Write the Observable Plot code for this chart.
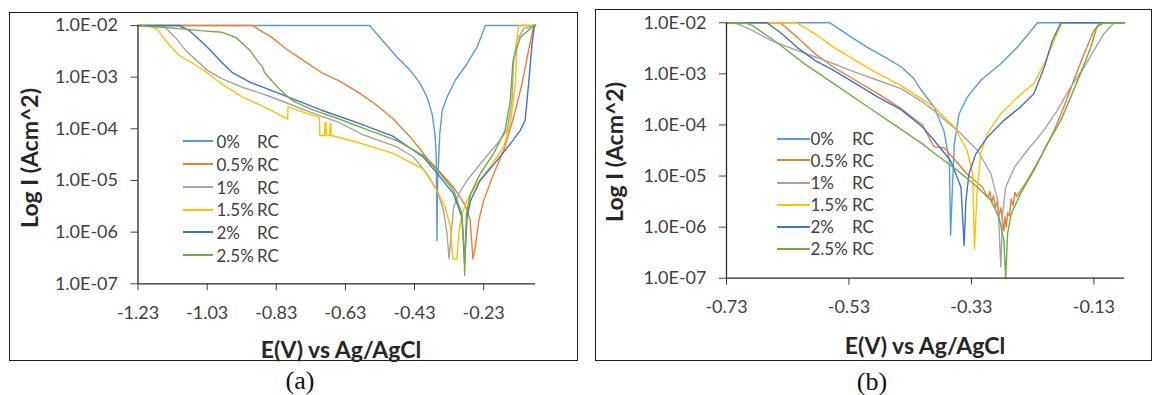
<!DOCTYPE html>
<html><head><meta charset="utf-8">
<script src="https://cdn.jsdelivr.net/npm/d3@7"></script>
<script src="https://cdn.jsdelivr.net/npm/@observablehq/plot@0.6"></script>
<style>
body{margin:0;background:#fff;width:1155px;height:395px;position:relative;overflow:hidden;font-family:Lato,"Open Sans",sans-serif;}
.box{position:absolute;border:1.5px solid #1e1e1e;box-sizing:border-box;}
.ttl{position:absolute;font-weight:bold;color:#262626;white-space:nowrap;font-size:23px;transform:translate(-50%,-50%);}
.ttl.rot{transform:translate(-50%,-50%) rotate(-90deg);}
.cap{position:absolute;font-family:"Liberation Serif","DejaVu Serif",serif;font-size:26px;color:#111;transform:translate(-50%,-50%);}
.lg{position:absolute;font-size:17px;color:#404040;white-space:nowrap;transform:translateY(-50%);line-height:1;}
.ll{position:absolute;}
</style></head><body>
<script>
// ---------- categories, colours, ticks ----------
const series = ["0%", "0.5%", "1%", "1.5%", "2%", "2.5%"];
const suffix = "RC";
const colors = ["#5B9BD5", "#ED7D31", "#A5A5A5", "#FFC000", "#4472C4", "#70AD47"];
const yTicks = [1e-2, 1e-3, 1e-4, 1e-5, 1e-6, 1e-7];
const xTicksA = [-1.23, -1.03, -0.83, -0.63, -0.43, -0.23];
const xTicksB = [-0.73, -0.53, -0.33, -0.13];
const xDomainA = [-1.23, -0.08];
const xDomainB = [-0.73, -0.08];
const yDomain = [1e-7, 1e-2];
const xTitle = "E(V) vs Ag/AgCl";
const yTitle = "Log I (Acm^2)";

// ---------- panel (a): [E (V), log10 I] ----------
const a_0 = [[-1.23,-2],[-0.56,-2],[-0.519,-2.32],[-0.481,-2.61],[-0.442,-2.87],[-0.413,-3.13],[-0.394,-3.39],[-0.379,-3.71],[-0.371,-4.10],[-0.367,-4.55],[-0.365,-6.16],[-0.363,-5.0],[-0.361,-4.74],[-0.357,-4.10],[-0.350,-3.65],[-0.336,-3.39],[-0.312,-3.06],[-0.278,-2.74],[-0.249,-2.42],[-0.225,-2.0],[-0.08,-2]];
const a_05 = [[-1.23,-2],[-0.90,-2],[-0.843,-2.23],[-0.802,-2.45],[-0.751,-2.68],[-0.699,-2.91],[-0.648,-3.07],[-0.596,-3.28],[-0.544,-3.52],[-0.493,-3.80],[-0.441,-4.17],[-0.413,-4.40],[-0.390,-4.60],[-0.365,-4.77],[-0.317,-5.13],[-0.283,-5.48],[-0.269,-5.77],[-0.261,-6.52],[-0.254,-6.29],[-0.244,-5.77],[-0.230,-5.39],[-0.201,-4.87],[-0.172,-4.42],[-0.143,-3.77],[-0.119,-3.13],[-0.100,-2.48],[-0.085,-2.0],[-0.08,-2]];
const a_1 = [[-1.23,-2],[-1.153,-2.03],[-1.122,-2.23],[-1.091,-2.49],[-1.060,-2.68],[-1.029,-2.87],[-0.988,-3.03],[-0.926,-3.20],[-0.854,-3.36],[-0.792,-3.52],[-0.730,-3.68],[-0.648,-3.88],[-0.577,-4.12],[-0.481,-4.35],[-0.432,-4.55],[-0.394,-4.87],[-0.365,-5.19],[-0.346,-5.58],[-0.336,-6.03],[-0.330,-6.52],[-0.324,-6.03],[-0.317,-5.52],[-0.302,-5.26],[-0.278,-5.0],[-0.240,-4.68],[-0.191,-4.29],[-0.162,-4.03],[-0.148,-3.45],[-0.143,-2.68],[-0.134,-2.29],[-0.114,-2.06],[-0.083,-2],[-0.08,-2]];
const a_15 = [[-1.23,-2],[-1.20,-2.0],[-1.173,-2.08],[-1.153,-2.27],[-1.111,-2.58],[-1.070,-2.74],[-1.029,-2.92],[-0.988,-3.13],[-0.926,-3.39],[-0.864,-3.58],[-0.797,-3.81],[-0.796,-3.57],[-0.751,-3.68],[-0.705,-3.78],[-0.704,-4.13],[-0.690,-4.13],[-0.689,-3.88],[-0.686,-3.88],[-0.685,-4.13],[-0.675,-4.13],[-0.674,-3.90],[-0.672,-3.90],[-0.671,-4.13],[-0.596,-4.26],[-0.493,-4.47],[-0.405,-4.78],[-0.365,-5.19],[-0.341,-5.52],[-0.326,-5.90],[-0.319,-6.52],[-0.307,-6.52],[-0.302,-6.03],[-0.293,-5.65],[-0.278,-5.39],[-0.249,-5.06],[-0.211,-4.74],[-0.172,-4.35],[-0.153,-3.90],[-0.138,-3.13],[-0.134,-2.29],[-0.129,-2.0],[-0.08,-2]];
const a_2 = [[-1.23,-2],[-1.111,-2],[-1.081,-2.10],[-1.050,-2.29],[-1.019,-2.49],[-0.988,-2.71],[-0.957,-2.91],[-0.905,-3.10],[-0.843,-3.26],[-0.782,-3.42],[-0.699,-3.64],[-0.596,-3.88],[-0.493,-4.14],[-0.404,-4.55],[-0.355,-4.94],[-0.317,-5.26],[-0.293,-5.71],[-0.285,-6.61],[-0.278,-5.71],[-0.268,-5.39],[-0.240,-5.0],[-0.191,-4.61],[-0.153,-4.29],[-0.124,-4.03],[-0.110,-3.84],[-0.100,-3.13],[-0.090,-2.35],[-0.083,-2],[-0.08,-2]];
const a_25 = [[-1.23,-2],[-1.111,-2.06],[-1.050,-2.10],[-0.988,-2.13],[-0.947,-2.23],[-0.905,-2.49],[-0.885,-2.68],[-0.869,-2.81],[-0.864,-2.91],[-0.843,-3.07],[-0.812,-3.29],[-0.782,-3.46],[-0.730,-3.62],[-0.648,-3.81],[-0.577,-3.99],[-0.481,-4.23],[-0.404,-4.52],[-0.355,-4.87],[-0.317,-5.19],[-0.293,-5.65],[-0.287,-6.30],[-0.285,-6.84],[-0.283,-6.30],[-0.280,-5.65],[-0.268,-5.26],[-0.240,-4.87],[-0.201,-4.48],[-0.168,-4.03],[-0.153,-3.45],[-0.145,-2.68],[-0.124,-2.23],[-0.085,-2],[-0.08,-2]];

// ---------- panel (b): [E (V), log10 I] ----------
const b_0 = [[-0.73,-2],[-0.561,-2],[-0.53,-2.25],[-0.50,-2.48],[-0.47,-2.68],[-0.445,-2.86],[-0.425,-3.08],[-0.413,-3.30],[-0.391,-3.65],[-0.375,-4.11],[-0.366,-4.70],[-0.364,-6.16],[-0.361,-5.22],[-0.358,-4.37],[-0.350,-3.78],[-0.337,-3.46],[-0.315,-3.13],[-0.282,-2.80],[-0.255,-2.48],[-0.222,-2.0],[-0.08,-2]];
const b_05 = [[-0.73,-2],[-0.642,-2],[-0.615,-2.28],[-0.585,-2.61],[-0.555,-2.87],[-0.519,-3.13],[-0.482,-3.39],[-0.445,-3.68],[-0.410,-4.00],[-0.391,-4.43],[-0.374,-4.45],[-0.337,-4.96],[-0.312,-5.22],[-0.303,-5.42],[-0.300,-5.30],[-0.297,-5.52],[-0.294,-5.38],[-0.291,-5.62],[-0.288,-5.50],[-0.285,-5.78],[-0.282,-5.62],[-0.279,-5.90],[-0.277,-6.07],[-0.275,-5.80],[-0.273,-6.00],[-0.271,-5.72],[-0.268,-5.78],[-0.265,-5.45],[-0.262,-5.58],[-0.259,-5.32],[-0.256,-5.40],[-0.239,-5.09],[-0.217,-4.63],[-0.195,-4.11],[-0.179,-3.65],[-0.163,-3.13],[-0.146,-2.61],[-0.130,-2.15],[-0.119,-2.0],[-0.08,-2]];
const b_1 = [[-0.73,-2],[-0.712,-2.02],[-0.688,-2.15],[-0.657,-2.35],[-0.615,-2.54],[-0.585,-2.67],[-0.555,-2.80],[-0.519,-2.97],[-0.482,-3.13],[-0.445,-3.29],[-0.410,-3.55],[-0.391,-3.72],[-0.347,-4.17],[-0.320,-4.50],[-0.298,-4.96],[-0.287,-5.48],[-0.282,-6.78],[-0.279,-5.74],[-0.274,-5.22],[-0.260,-4.83],[-0.239,-4.50],[-0.212,-4.11],[-0.190,-3.72],[-0.168,-3.26],[-0.146,-2.87],[-0.130,-2.54],[-0.114,-2.22],[-0.097,-2.0],[-0.08,-2]];
const b_15 = [[-0.73,-2],[-0.615,-2],[-0.585,-2.22],[-0.555,-2.48],[-0.519,-2.74],[-0.482,-3.0],[-0.445,-3.23],[-0.391,-3.65],[-0.358,-4.04],[-0.337,-4.50],[-0.328,-4.96],[-0.325,-6.43],[-0.321,-5.35],[-0.315,-4.57],[-0.304,-4.17],[-0.282,-3.78],[-0.255,-3.46],[-0.228,-3.19],[-0.211,-2.80],[-0.195,-2.35],[-0.182,-2.0],[-0.08,-2]];
const b_2 = [[-0.73,-2],[-0.664,-2],[-0.639,-2.22],[-0.615,-2.48],[-0.585,-2.74],[-0.555,-2.93],[-0.519,-3.19],[-0.482,-3.46],[-0.445,-3.70],[-0.410,-4.04],[-0.391,-4.30],[-0.364,-4.70],[-0.347,-5.22],[-0.342,-6.36],[-0.339,-5.48],[-0.334,-4.96],[-0.323,-4.57],[-0.304,-4.24],[-0.277,-3.91],[-0.250,-3.65],[-0.228,-3.39],[-0.211,-2.87],[-0.198,-2.35],[-0.184,-2.0],[-0.08,-2]];
const b_25 = [[-0.73,-2],[-0.70,-2],[-0.688,-2.05],[-0.645,-2.41],[-0.603,-2.80],[-0.555,-3.19],[-0.506,-3.59],[-0.458,-3.98],[-0.410,-4.37],[-0.391,-4.55],[-0.353,-4.89],[-0.320,-5.22],[-0.298,-5.48],[-0.285,-5.81],[-0.277,-6.26],[-0.274,-7.0],[-0.271,-6.13],[-0.265,-5.74],[-0.250,-5.35],[-0.228,-4.89],[-0.206,-4.37],[-0.184,-3.91],[-0.168,-3.46],[-0.152,-3.0],[-0.135,-2.48],[-0.125,-2.08],[-0.114,-2.0],[-0.08,-2]];

const panelA = [a_0, a_05, a_1, a_15, a_2, a_25];
const panelB = [b_0, b_05, b_1, b_15, b_2, b_25];

function rows(panel) {
  return panel.flatMap((pts, i) => pts.map(([E, L]) => ({s: series[i], E, I: Math.pow(10, L)})));
}
const fmtY = d => "1.0E-" + String(-Math.round(Math.log10(d))).padStart(2, "0");

function makePlot(data, opt) {
  const svg = Plot.plot({
    width: opt.w, height: opt.h,
    marginLeft: opt.ml, marginRight: opt.mr, marginTop: opt.mt, marginBottom: opt.mb,
    style: {fontFamily: "Lato, 'Open Sans', sans-serif", fontSize: "18px", color: "#404040", background: "none", overflow: "visible"},
    x: {domain: opt.xDomain, ticks: opt.xTicks, tickFormat: d => d.toFixed(2), tickSize: 7, tickPadding: 15, label: null},
    y: {type: "log", domain: yDomain, ticks: yTicks, tickFormat: fmtY, tickSize: 7, tickPadding: 13, label: null},
    color: {domain: series, range: colors},
    marks: [
      Plot.line(data, {x: "E", y: "I", z: "s", stroke: "s", strokeWidth: 1.4, curve: "linear"}),
      Plot.ruleX([opt.xDomain[0]], {stroke: "#2a2a2a", strokeWidth: 1.3}),
      Plot.ruleY([yDomain[0]], {stroke: "#2a2a2a", strokeWidth: 1.3})
    ]
  });
  svg.style.position = "absolute";
  svg.style.left = opt.left + "px";
  svg.style.top = opt.top + "px";
  document.body.appendChild(svg);
}

function box(l, t, w, h) {
  const d = document.createElement("div");
  d.className = "box";
  Object.assign(d.style, {left: l + "px", top: t + "px", width: w + "px", height: h + "px"});
  document.body.appendChild(d);
}
function text(cls, str, x, y) {
  const d = document.createElement("div");
  d.className = cls; d.textContent = str;
  d.style.left = x + "px"; d.style.top = y + "px";
  document.body.appendChild(d);
  return d;
}
function legend(lx0, lx1, tx, rcx, y0, dy) {
  series.forEach((s, i) => {
    const y = y0 + i * dy;
    const l = document.createElement("div");
    l.className = "ll";
    const th = i === 1 ? 2 : 1.5;
    Object.assign(l.style, {left: lx0 + "px", width: (lx1 - lx0) + "px", top: Math.round(y - th / 2) + "px", height: th + "px", background: colors[i]});
    document.body.appendChild(l);
    text("lg", s, tx, y);
    text("lg", suffix, rcx, y);
  });
}

box(8.5, 12, 569.5, 349);
box(595, 8.5, 557, 352.5);

makePlot(rows(panelA), {left: 9, top: 12, w: 568, h: 348, ml: 128.5, mr: 42, mt: 13, mb: 76.7, xDomain: xDomainA, xTicks: xTicksA});
makePlot(rows(panelB), {left: 596, top: 9, w: 555, h: 351, ml: 130, mr: 27, mt: 13.3, mb: 82.3, xDomain: xDomainB, xTicks: xTicksB});

legend(183, 213, 216.5, 257, 141, 22.8);
legend(777, 809.5, 810.5, 852, 138.3, 22);

text("ttl", xTitle, 341, 349);
text("ttl rot", yTitle, 28.5, 158);
text("ttl", xTitle, 925, 345);
text("ttl rot", yTitle, 614, 152);
text("cap", "(a)", 300, 381);
text("cap", "(b)", 872, 382);
</script>
</body></html>
